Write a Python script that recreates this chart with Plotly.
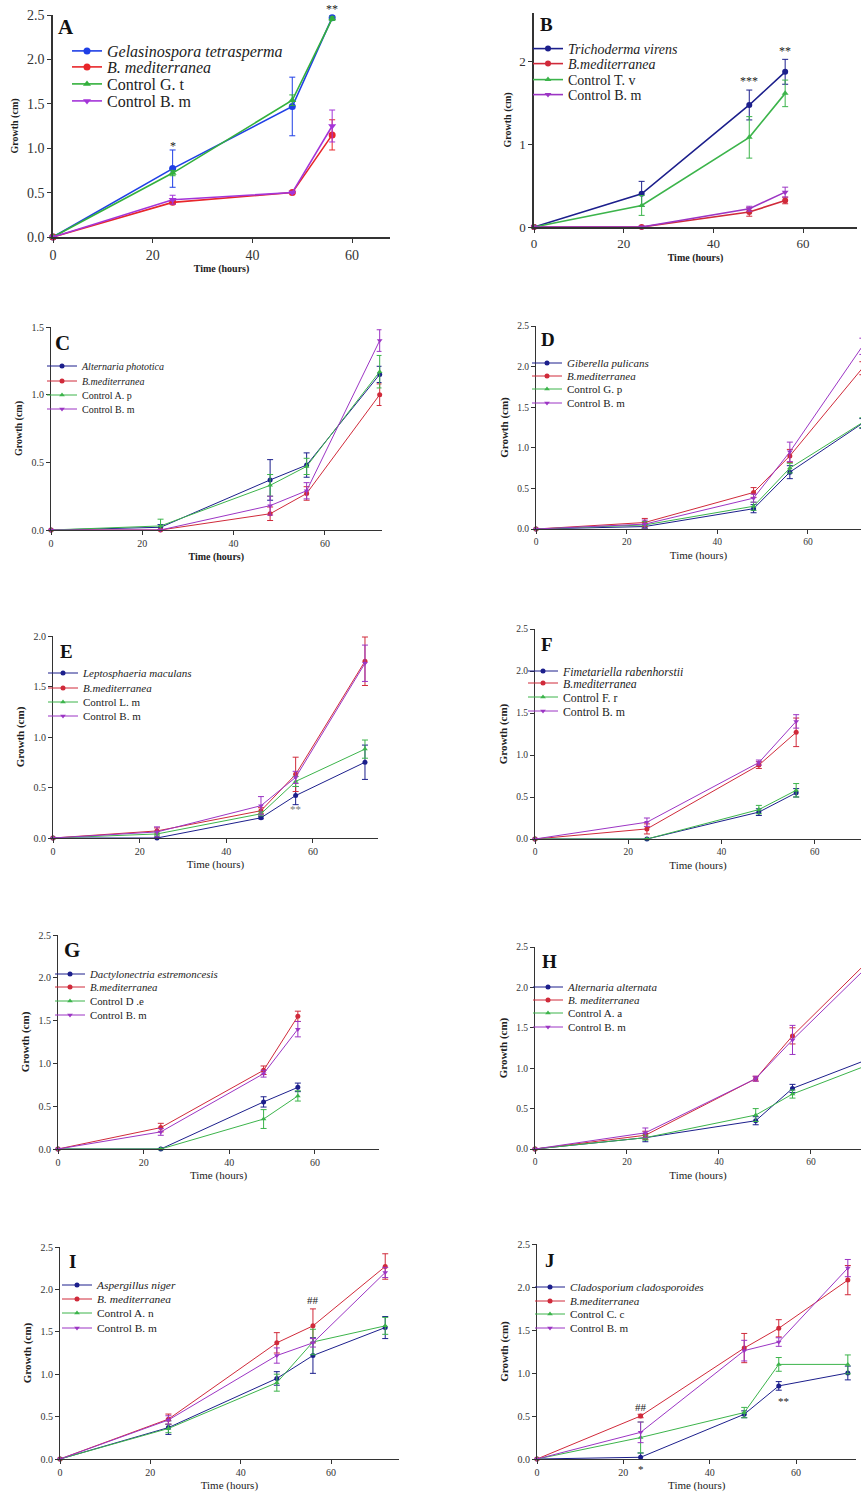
import plotly.graph_objects as go

W, H = 861, 1495
SERIF = "Liberation Serif"

# ---------------- DATA ----------------
hours4 = [0, 24, 48, 56]
hours5 = [0, 24, 48, 56, 72]

# A
A_names = ["<i>Gelasinospora tetrasperma</i>", "<i>B. mediterranea</i>", "Control G. t", "Control B. m"]
A_fungus = [0, 0.77, 1.47, 2.47];   A_fungus_err = [0, 0.21, 0.33, 0.02]
A_bmed = [0, 0.39, 0.50, 1.15];     A_bmed_err = [0, 0.02, 0.01, 0.17]
A_ctrl = [0, 0.72, 1.54, 2.46];     A_ctrl_err = [0, 0.03, 0.06, 0.02]
A_ctrlbm = [0, 0.42, 0.50, 1.25];   A_ctrlbm_err = [0, 0.05, 0.01, 0.18]

# B
B_names = ["<i>Trichoderma virens</i>", "<i>B.mediterranea</i>", "Control T. v", "Control B. m"]
B_fungus = [0, 0.40, 1.47, 1.87];   B_fungus_err = [0, 0.15, 0.18, 0.15]
B_bmed = [0, 0.0, 0.18, 0.32];      B_bmed_err = [0, 0, 0.05, 0.04]
B_ctrl = [0, 0.26, 1.08, 1.61];     B_ctrl_err = [0, 0.12, 0.25, 0.16]
B_ctrlbm = [0, 0.0, 0.22, 0.42];    B_ctrlbm_err = [0, 0, 0.03, 0.06]

# C
C_names = ["<i>Alternaria phototica</i>", "<i>B.mediterranea</i>", "Control A. p", "Control B. m"]
C_fungus = [0, 0.02, 0.37, 0.48, 1.15];  C_fungus_err = [0, 0.02, 0.15, 0.09, 0.06]
C_bmed = [0, 0.0, 0.12, 0.27, 1.00];     C_bmed_err = [0, 0, 0.05, 0.05, 0.08]
C_ctrl = [0, 0.03, 0.33, 0.47, 1.17];    C_ctrl_err = [0, 0.05, 0.08, 0.06, 0.12]
C_ctrlbm = [0, 0.0, 0.18, 0.29, 1.40];   C_ctrlbm_err = [0, 0, 0.07, 0.06, 0.08]

# D
D_names = ["<i>Giberella pulicans</i>", "<i>B.mediterranea</i>", "Control G. p", "Control B. m"]
D_fungus = [0, 0.03, 0.25, 0.70, 1.30];  D_fungus_err = [0, 0.02, 0.05, 0.08, 0.06]
D_bmed = [0, 0.08, 0.45, 0.90, 1.98];    D_bmed_err = [0, 0.05, 0.06, 0.08, 0.08]
D_ctrl = [0, 0.05, 0.28, 0.75, 1.31];    D_ctrl_err = [0, 0.04, 0.05, 0.06, 0.06]
D_ctrlbm = [0, 0.06, 0.38, 0.95, 2.25];  D_ctrlbm_err = [0, 0.05, 0.05, 0.12, 0.1]

# E
E_names = ["<i>Leptosphaeria maculans</i>", "<i>B.mediterranea</i>", "Control L. m", "Control B. m"]
E_fungus = [0, 0.0, 0.20, 0.42, 0.75];   E_fungus_err = [0, 0, 0.01, 0.09, 0.17]
E_bmed = [0, 0.07, 0.27, 0.63, 1.75];    E_bmed_err = [0, 0.03, 0.03, 0.17, 0.24]
E_ctrl = [0, 0.04, 0.24, 0.56, 0.88];    E_ctrl_err = [0, 0.02, 0.02, 0.05, 0.09]
E_ctrlbm = [0, 0.06, 0.32, 0.60, 1.73];  E_ctrlbm_err = [0, 0.05, 0.09, 0.06, 0.18]

# F
F_names = ["<i>Fimetariella rabenhorstii</i>", "<i>B.mediterranea</i>", "Control F. r", "Control B. m"]
F_fungus = [0, 0.0, 0.32, 0.55];   F_fungus_err = [0, 0, 0.04, 0.05]
F_bmed = [0, 0.12, 0.88, 1.27];    F_bmed_err = [0, 0.06, 0.04, 0.17]
F_ctrl = [0, 0.0, 0.35, 0.58];     F_ctrl_err = [0, 0, 0.05, 0.08]
F_ctrlbm = [0, 0.20, 0.91, 1.40];  F_ctrlbm_err = [0, 0.05, 0.03, 0.08]

# G
G_names = ["<i>Dactylonectria estremoncesis</i>", "<i>B.mediterranea</i>", "Control D .e", "Control B. m"]
G_fungus = [0, 0.0, 0.55, 0.72];   G_fungus_err = [0, 0, 0.06, 0.05]
G_bmed = [0, 0.25, 0.92, 1.55];    G_bmed_err = [0, 0.05, 0.05, 0.06]
G_ctrl = [0, 0.0, 0.35, 0.62];     G_ctrl_err = [0, 0, 0.11, 0.06]
G_ctrlbm = [0, 0.20, 0.88, 1.40];  G_ctrlbm_err = [0, 0.04, 0.04, 0.09]

# H
H_names = ["<i>Alternaria alternata</i>", "<i>B. mediterranea</i>", "Control A. a", "Control B. m"]
H_fungus = [0, 0.14, 0.35, 0.75, 1.10];  H_fungus_err = [0, 0.05, 0.05, 0.05, 0.06]
H_bmed = [0, 0.17, 0.87, 1.40, 2.30];    H_bmed_err = [0, 0.05, 0.03, 0.10, 0.1]
H_ctrl = [0, 0.14, 0.42, 0.68, 1.03];    H_ctrl_err = [0, 0.03, 0.08, 0.05, 0.05]
H_ctrlbm = [0, 0.20, 0.87, 1.35, 2.24];  H_ctrlbm_err = [0, 0.06, 0.03, 0.18, 0.1]

# I
I_names = ["<i>Aspergillus niger</i>", "<i>B. mediterranea</i>", "Control A. n", "Control B. m"]
I_fungus = [0, 0.37, 0.95, 1.22, 1.55];  I_fungus_err = [0, 0.08, 0.08, 0.21, 0.13]
I_bmed = [0, 0.47, 1.37, 1.57, 2.27];    I_bmed_err = [0, 0.06, 0.12, 0.20, 0.15]
I_ctrl = [0, 0.36, 0.90, 1.38, 1.57];    I_ctrl_err = [0, 0.05, 0.10, 0.15, 0.10]
I_ctrlbm = [0, 0.46, 1.22, 1.37, 2.20];  I_ctrlbm_err = [0, 0.05, 0.09, 0.05, 0.06]

# J
J_names = ["<i>Cladosporium cladosporoides</i>", "<i>B.mediterranea</i>", "Control C. c", "Control B. m"]
J_fungus = [0, 0.02, 0.52, 0.85, 1.00];  J_fungus_err = [0, 0.05, 0.04, 0.05, 0.08]
J_bmed = [0, 0.50, 1.29, 1.52, 2.08];    J_bmed_err = [0, 0.02, 0.17, 0.10, 0.17]
J_ctrl = [0, 0.25, 0.54, 1.10, 1.10];    J_ctrl_err = [0, 0.18, 0.06, 0.08, 0.11]
J_ctrlbm = [0, 0.31, 1.26, 1.36, 2.22];  J_ctrlbm_err = [0, 0.12, 0.12, 0.05, 0.10]

# significance marks
sig_panel = ["A", "A", "B", "B", "E", "I", "J", "J", "J"]
sig_hour = [24, 56, 48, 56, 56, 56, 24, 24, 57]
sig_value = [1.02, 2.47, 1.76, 2.12, 0.29, 1.87, 0.61, 0.0, 0.68]
sig_text = ["*", "**", "***", "**", "**", "##", "##", "*", "**"]
sig_shift = [0, 9, 0, 0, 0, 0, 0, -10, 0]

panel_data = {
    "A": (hours4, A_names, [(A_fungus, A_fungus_err), (A_bmed, A_bmed_err), (A_ctrl, A_ctrl_err), (A_ctrlbm, A_ctrlbm_err)]),
    "B": (hours4, B_names, [(B_fungus, B_fungus_err), (B_bmed, B_bmed_err), (B_ctrl, B_ctrl_err), (B_ctrlbm, B_ctrlbm_err)]),
    "C": (hours5, C_names, [(C_fungus, C_fungus_err), (C_bmed, C_bmed_err), (C_ctrl, C_ctrl_err), (C_ctrlbm, C_ctrlbm_err)]),
    "D": (hours5, D_names, [(D_fungus, D_fungus_err), (D_bmed, D_bmed_err), (D_ctrl, D_ctrl_err), (D_ctrlbm, D_ctrlbm_err)]),
    "E": (hours5, E_names, [(E_fungus, E_fungus_err), (E_bmed, E_bmed_err), (E_ctrl, E_ctrl_err), (E_ctrlbm, E_ctrlbm_err)]),
    "F": (hours4, F_names, [(F_fungus, F_fungus_err), (F_bmed, F_bmed_err), (F_ctrl, F_ctrl_err), (F_ctrlbm, F_ctrlbm_err)]),
    "G": (hours4, G_names, [(G_fungus, G_fungus_err), (G_bmed, G_bmed_err), (G_ctrl, G_ctrl_err), (G_ctrlbm, G_ctrlbm_err)]),
    "H": (hours5, H_names, [(H_fungus, H_fungus_err), (H_bmed, H_bmed_err), (H_ctrl, H_ctrl_err), (H_ctrlbm, H_ctrlbm_err)]),
    "I": (hours5, I_names, [(I_fungus, I_fungus_err), (I_bmed, I_bmed_err), (I_ctrl, I_ctrl_err), (I_ctrlbm, I_ctrlbm_err)]),
    "J": (hours5, J_names, [(J_fungus, J_fungus_err), (J_bmed, J_bmed_err), (J_ctrl, J_ctrl_err), (J_ctrlbm, J_ctrlbm_err)]),
}

# ---------------- LAYOUT SPECS (pixels) ----------------
spec = {
    "A": dict(x0=53, xppu=4.985, xmax=67.6, y0=237, yppu=88.8, ymax=2.5, dtick=0.5, fmt=".1f",
              tick=14, title=10, xstand=0, boldx=True, leg=16, legtext=107, legrows=[51, 67, 84, 101],
              lw=1.6, ms=7, letter=(66, 27), lsize=21, bright=True),
    "B": dict(x0=534, xppu=4.485, xmax=72, y0=227, yppu=83, ymax=2.58, dtick=1, fmt="d",
              tick=13, title=10, xstand=4, boldx=True, leg=14, legtext=568, legrows=[49, 64, 80, 95],
              lw=1.6, ms=6, letter=(546, 25), lsize=19, bright=False),
    "C": dict(x0=51, xppu=4.565, xmax=72.4, y0=530, yppu=135.3, ymax=1.5, dtick=0.5, fmt=".1f",
              tick=10, title=10, xstand=4, boldx=True, leg=10, legtext=82, legrows=[366, 381, 395, 409],
              lw=1.0, ms=5, letter=(62, 343), lsize=21, bright=False),
    "D": dict(x0=536, xppu=4.535, xmax=71.7, y0=529, yppu=81.2, ymax=2.5, dtick=0.5, fmt=".1f",
              tick=9.5, title=11, xstand=4, boldx=False, leg=11, legtext=567, legrows=[363, 376, 389, 403],
              lw=1.0, ms=5, letter=(548, 340), lsize=19, bright=False),
    "E": dict(x0=53, xppu=4.333, xmax=75, y0=838, yppu=101, ymax=2.0, dtick=0.5, fmt=".1f",
              tick=10, title=11, xstand=4, boldx=False, leg=11, legtext=83, legrows=[673, 688, 702, 716],
              lw=1.0, ms=5, letter=(66, 651), lsize=19, bright=False),
    "F": dict(x0=535, xppu=4.667, xmax=69.9, y0=839, yppu=84, ymax=2.5, dtick=0.5, fmt=".1f",
              tick=9.5, title=11, xstand=4, boldx=False, leg=11.8, legtext=563, legrows=[671, 683, 697, 711],
              lw=1.0, ms=5, letter=(547, 644), lsize=19, bright=False),
    "G": dict(x0=58, xppu=4.283, xmax=75, y0=1149, yppu=85.6, ymax=2.5, dtick=0.5, fmt=".1f",
              tick=10, title=11, xstand=4, boldx=False, leg=10.8, legtext=90, legrows=[974, 987, 1001, 1015],
              lw=1.0, ms=5, letter=(72, 950), lsize=21, bright=False),
    "H": dict(x0=535, xppu=4.6, xmax=70.9, y0=1149, yppu=80.8, ymax=2.5, dtick=0.5, fmt=".1f",
              tick=9.5, title=11, xstand=4, boldx=False, leg=11, legtext=568, legrows=[987, 1000, 1013, 1027],
              lw=1.0, ms=5, letter=(549, 962), lsize=19, bright=False),
    "I": dict(x0=60, xppu=4.517, xmax=75, y0=1459, yppu=84.8, ymax=2.5, dtick=0.5, fmt=".1f",
              tick=10, title=11, xstand=4, boldx=False, leg=11.4, legtext=97, legrows=[1285, 1299, 1313, 1328],
              lw=1.0, ms=5, letter=(72, 1261), lsize=19, bright=False),
    "J": dict(x0=537, xppu=4.317, xmax=74, y0=1459, yppu=86, ymax=2.5, dtick=0.5, fmt=".1f",
              tick=10, title=11, xstand=4, boldx=False, leg=11.1, legtext=570, legrows=[1287, 1301, 1314, 1328],
              lw=1.0, ms=5, letter=(550, 1260), lsize=19, bright=False),
}

BRIGHT = ["#1f3fe6", "#e8262a", "#33b03c", "#a434d8"]
DARK = ["#1c1f8c", "#d02a3a", "#3cb44b", "#9c35c4"]
SYMBOLS = ["circle", "circle", "triangle-up", "triangle-down"]

fig = go.Figure()
layout = dict(width=W, height=H, margin=dict(l=0, r=0, t=0, b=0, autoexpand=False),
              paper_bgcolor="white", plot_bgcolor="white", showlegend=True,
              font=dict(family=SERIF, color="#222"))
annotations = []
leg_count = 0

for i, key in enumerate(spec):
    s = spec[key]
    n = i + 1
    xa = "x" if n == 1 else f"x{n}"
    ya = "y" if n == 1 else f"y{n}"
    hours, names, series = panel_data[key]
    colors = BRIGHT if s["bright"] else DARK
    for j, (vals, errs) in enumerate(series):
        leg_count += 1
        lg = "legend" if leg_count == 1 else f"legend{leg_count}"
        fig.add_trace(go.Scatter(
            x=hours, y=vals, name=names[j], mode="lines+markers",
            xaxis=xa, yaxis=ya, legend=lg, cliponaxis=False,
            line=dict(color=colors[j], width=s["lw"]),
            marker=dict(color=colors[j], symbol=SYMBOLS[j], size=s["ms"]),
            error_y=dict(type="data", array=errs, color=colors[j], thickness=1, width=3, visible=True),
        ))
        layout[lg] = dict(
            x=(s["legtext"] - 40) / W, y=1 - s["legrows"][j] / H, xanchor="left", yanchor="middle",
            bgcolor="rgba(0,0,0,0)", borderwidth=0,
            font=dict(family=SERIF, size=s["leg"], color="#222"),
        )
    xl = s["x0"] / W
    xr = min(1.0, (s["x0"] + s["xmax"] * s["xppu"]) / W)
    ybot = 1 - s["y0"] / H
    ytop = 1 - (s["y0"] - s["ymax"] * s["yppu"]) / H
    lw_axis = 1.5 if key in ("A", "B") else 1.0
    xtitle = "<b>Time (hours)</b>" if s["boldx"] else "Time (hours)"
    layout["xaxis" if n == 1 else f"xaxis{n}"] = dict(
        domain=[xl, xr], range=[0, s["xmax"]], anchor=ya,
        tickvals=[0, 20, 40, 60], showline=True, linecolor="#333", linewidth=lw_axis,
        ticks="outside", ticklen=4, tickcolor="#333", tickwidth=1, showgrid=False, zeroline=False,
        tickfont=dict(family=SERIF, size=s["tick"], color="#333"),
        title=dict(text=xtitle, font=dict(family=SERIF, size=s["title"], color="#222"), standoff=s["xstand"]),
    )
    yticks = []
    v = 0.0
    while v <= s["ymax"] + 1e-9:
        yticks.append(round(v, 2))
        v += s["dtick"]
    layout["yaxis" if n == 1 else f"yaxis{n}"] = dict(
        domain=[ybot, ytop], range=[0, s["ymax"]], anchor=xa,
        tickvals=yticks, tickformat=s["fmt"], showline=True, linecolor="#333", linewidth=lw_axis,
        ticks="outside", ticklen=4, tickcolor="#333", tickwidth=1, showgrid=False, zeroline=False,
        tickfont=dict(family=SERIF, size=s["tick"], color="#333"),
        title=dict(text="<b>Growth (cm)</b>", font=dict(family=SERIF, size=s["title"], color="#222"), standoff=6),
    )
    annotations.append(dict(
        text=f"<b>{key}</b>", xref="paper", yref="paper",
        x=s["letter"][0] / W, y=1 - s["letter"][1] / H, xanchor="center", yanchor="middle",
        showarrow=False, font=dict(family=SERIF, size=s["lsize"], color="#111"),
    ))

for p, hx, gy, t, sh in zip(sig_panel, sig_hour, sig_value, sig_text, sig_shift):
    n = list(spec).index(p) + 1
    xa = "x" if n == 1 else f"x{n}"
    ya = "y" if n == 1 else f"y{n}"
    annotations.append(dict(
        text=t, xref=xa, yref=ya, x=hx, y=gy, yshift=sh, showarrow=False,
        xanchor="center", yanchor="middle",
        font=dict(family=SERIF, size=12 if p in ("A", "B") else 11, color="#777" if p == "E" else "#222"),
    ))

layout["annotations"] = annotations
fig.update_layout(**layout)
fig.write_html("out.html", config={"displayModeBar": False},
               post_script="document.body.style.margin='0px'; document.body.style.overflow='hidden';")
